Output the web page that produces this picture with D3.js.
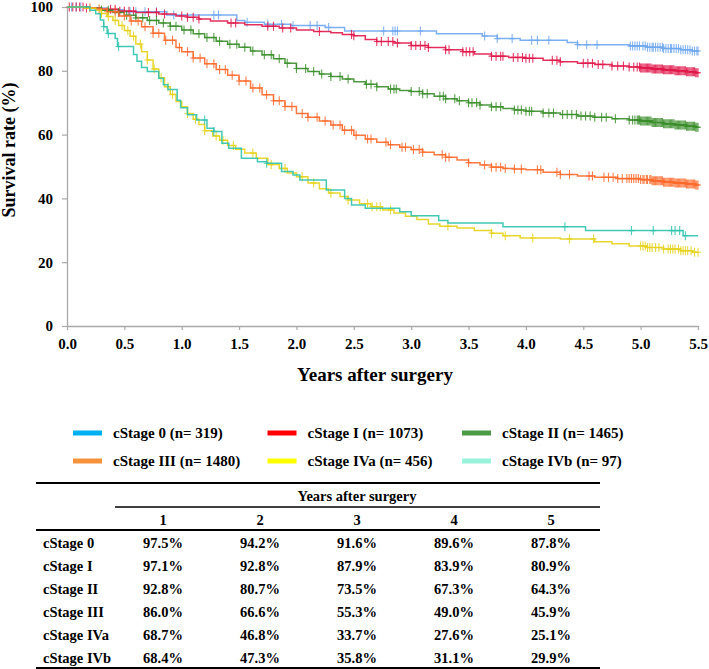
<!DOCTYPE html>
<html>
<head>
<meta charset="utf-8">
<script src="https://cdn.jsdelivr.net/npm/d3@7"></script>
<style>
  html, body { margin: 0; padding: 0; background: #fff; }
  svg { display: block; font-family: "Liberation Serif", "Times New Roman", serif; font-weight: bold; }
</style>
</head>
<body>
<svg id="chart" width="709" height="669"></svg>
<script>
// ---------------- DATA ----------------
const stages = ["cStage 0", "cStage I", "cStage II", "cStage III", "cStage IVa", "cStage IVb"];
const counts = [319, 1073, 1465, 1480, 456, 97];
const years = [1, 2, 3, 4, 5];
const xTicks = [0, 0.5, 1, 1.5, 2, 2.5, 3, 3.5, 4, 4.5, 5, 5.5];
const yTicks = [0, 20, 40, 60, 80, 100];

// survival step points [years, %]
const stage0Steps = [[0,100],[0.2,99.7],[0.35,99.1],[0.5,98.5],[0.87,97.5],[1.48,95.8],[1.55,95.2],[1.72,94.6],[1.95,94.2],[2.25,93.6],[2.42,92.5],[3.22,91.6],[3.62,90.9],[3.75,90.1],[3.95,89.6],[4.36,88.9],[4.45,88.2],[4.9,87.8],[5.05,87.4],[5.2,87.0],[5.35,86.6],[5.45,86.2],[5.5,86.2]];
const stage1Steps = [[0,100],[0.15,99.7],[0.3,99.3],[0.45,98.7],[0.6,98.3],[0.8,97.8],[0.95,97.2],[1.05,96.8],[1.15,96.2],[1.25,95.6],[1.4,95.0],[1.55,94.4],[1.7,94.0],[1.85,93.4],[2.0,92.8],[2.15,92.3],[2.3,91.9],[2.4,91.4],[2.5,91.0],[2.6,89.8],[2.7,89.2],[2.85,88.7],[3.0,87.9],[3.15,87.3],[3.3,86.6],[3.45,86.0],[3.55,85.3],[3.7,84.6],[3.85,84.2],[4.0,83.9],[4.15,83.3],[4.3,82.8],[4.45,82.4],[4.6,82.0],[4.75,81.5],[4.9,81.2],[5.0,80.9],[5.1,80.6],[5.2,80.3],[5.3,80.0],[5.4,79.7],[5.48,79.4],[5.5,79.4]];
const stage2Steps = [[0,100],[0.2,99.6],[0.3,99.0],[0.4,98.3],[0.5,97.4],[0.6,96.6],[0.7,95.8],[0.8,95.0],[0.9,94.0],[1.0,92.8],[1.1,91.6],[1.2,90.4],[1.3,89.3],[1.4,88.3],[1.5,87.4],[1.6,86.2],[1.7,85.0],[1.8,83.8],[1.9,82.4],[2.0,80.7],[2.1,79.8],[2.2,79.0],[2.3,78.2],[2.4,77.4],[2.5,76.6],[2.6,75.8],[2.7,75.0],[2.8,74.3],[2.9,73.8],[3.0,73.5],[3.1,72.8],[3.2,72.0],[3.3,71.2],[3.4,70.6],[3.5,70.0],[3.6,69.3],[3.7,68.7],[3.8,68.2],[3.9,67.7],[4.0,67.3],[4.15,66.8],[4.3,66.3],[4.45,65.8],[4.6,65.4],[4.75,65.0],[4.9,64.6],[5.0,64.3],[5.1,63.8],[5.2,63.4],[5.3,63.0],[5.4,62.6],[5.48,62.3],[5.5,62.3]];
const stage3Steps = [[0,100],[0.15,99.8],[0.25,99.4],[0.35,98.5],[0.45,97.2],[0.55,95.6],[0.65,93.8],[0.75,91.8],[0.85,89.6],[0.95,87.3],[1.0,86.0],[1.1,84.0],[1.2,82.2],[1.3,80.4],[1.4,78.6],[1.5,76.8],[1.6,74.6],[1.7,72.5],[1.8,70.6],[1.9,68.8],[2.0,66.6],[2.1,65.4],[2.2,64.3],[2.3,63.0],[2.4,61.4],[2.5,59.8],[2.6,58.6],[2.7,57.6],[2.8,56.8],[2.9,56.0],[3.0,55.3],[3.1,54.5],[3.2,53.7],[3.3,52.9],[3.4,52.0],[3.5,51.2],[3.6,50.5],[3.7,49.8],[3.8,49.4],[3.9,49.2],[4.0,49.0],[4.15,48.2],[4.3,47.5],[4.45,47.0],[4.6,46.6],[4.8,46.2],[5.0,45.9],[5.1,45.5],[5.2,45.1],[5.3,44.8],[5.4,44.5],[5.48,44.2],[5.5,44.2]];
const stage4aSteps = [[0,100],[0.15,99.6],[0.25,99.0],[0.3,98.0],[0.35,97.0],[0.4,95.8],[0.45,94.2],[0.5,92.6],[0.55,90.8],[0.6,88.4],[0.65,86.0],[0.7,83.4],[0.75,80.6],[0.8,77.8],[0.85,75.0],[0.9,72.6],[0.95,70.4],[1.0,68.7],[1.05,66.6],[1.1,64.8],[1.15,63.2],[1.2,61.2],[1.27,59.6],[1.33,58.2],[1.4,56.6],[1.47,55.4],[1.55,54.2],[1.65,52.6],[1.75,50.6],[1.85,49.4],[1.92,48.0],[2.0,46.8],[2.1,44.8],[2.2,43.0],[2.28,41.7],[2.38,40.6],[2.45,39.5],[2.55,38.3],[2.65,37.4],[2.75,36.4],[2.85,35.4],[2.95,34.4],[3.05,33.4],[3.15,32.0],[3.25,31.3],[3.4,30.7],[3.55,29.9],[3.7,29.1],[3.8,28.3],[3.95,27.6],[4.3,27.3],[4.6,26.4],[4.75,25.8],[4.9,25.1],[5.05,24.6],[5.2,24.1],[5.35,23.6],[5.45,23.1],[5.5,23.1]];
const stage4bSteps = [[0,100],[0.2,99.0],[0.25,97.9],[0.29,95.9],[0.32,93.8],[0.35,91.7],[0.42,90.1],[0.44,87.6],[0.58,85.1],[0.61,83.0],[0.65,81.0],[0.7,79.8],[0.8,77.7],[0.84,75.6],[0.88,74.1],[0.96,70.8],[0.99,68.4],[1.05,66.2],[1.13,64.6],[1.22,62.0],[1.28,61.0],[1.35,57.3],[1.41,55.7],[1.52,52.6],[1.66,51.5],[1.74,51.0],[1.87,48.4],[1.97,47.3],[2.03,45.8],[2.26,42.6],[2.42,40.0],[2.48,37.9],[2.6,36.9],[2.9,35.8],[3.0,34.6],[3.24,33.1],[3.32,32.3],[3.8,31.1],[4.52,29.9],[5.37,28.3],[5.5,28.3]];

// censoring times (years)
const stage0Censor = [0.04,0.08,0.12,0.55,0.6,0.68,0.78,0.93,1.28,1.32,1.57,1.75,1.87,1.97,2.12,2.18,2.28,2.76,2.84,2.86,2.88,3.08,3.64,3.75,3.88,4.05,4.1,4.2,4.45,4.53,4.62,4.91,4.93,4.95,4.97,4.99,5.02,5.04,5.06,5.08,5.1,5.11,5.13,5.15,5.17,5.19,5.2,5.22,5.24,5.26,5.27,5.29,5.31,5.33,5.35,5.37,5.39,5.41,5.43,5.45,5.47,5.49,5.5];
const stage1Censor = [0.02,0.05,0.08,0.11,0.14,0.17,0.38,0.42,0.46,0.5,0.54,0.58,0.71,0.78,0.85,1.0,1.05,1.1,1.15,1.43,1.47,1.75,1.8,1.88,1.95,2.2,2.48,2.5,2.7,2.74,2.8,2.84,2.88,3.0,3.04,3.08,3.12,3.15,3.3,3.33,3.45,3.48,3.51,3.54,3.7,3.74,3.78,3.8,3.89,3.93,3.97,4.0,4.03,4.06,4.23,4.27,4.3,4.5,4.54,4.58,4.63,4.67,4.75,4.8,4.85,4.9,4.94,4.97,4.99,5.0,5.01,5.02,5.03,5.04,5.05,5.06,5.07,5.08,5.09,5.1,5.11,5.12,5.13,5.14,5.15,5.16,5.17,5.18,5.19,5.2,5.21,5.22,5.23,5.24,5.25,5.26,5.27,5.28,5.29,5.3,5.31,5.32,5.33,5.34,5.35,5.36,5.37,5.38,5.39,5.4,5.41,5.42,5.43,5.44,5.45,5.46,5.47,5.48,5.49,5.5];
const stage2Censor = [0.3,0.36,0.45,0.52,0.6,0.66,0.72,0.78,0.84,0.9,0.95,1.02,1.08,1.15,1.22,1.28,1.33,1.42,1.48,1.55,1.62,1.72,1.78,1.85,1.92,2.0,2.08,2.15,2.22,2.3,2.38,2.45,2.61,2.65,2.7,2.82,2.85,2.87,3.0,3.07,3.1,3.14,3.25,3.28,3.3,3.38,3.42,3.5,3.53,3.57,3.6,3.7,3.74,3.78,3.9,3.93,3.96,4.0,4.03,4.05,4.15,4.2,4.24,4.32,4.36,4.4,4.44,4.48,4.52,4.56,4.6,4.66,4.7,4.78,4.9,4.93,4.95,4.97,4.98,4.99,5.0,5.01,5.02,5.03,5.04,5.05,5.06,5.07,5.08,5.09,5.1,5.11,5.12,5.13,5.14,5.15,5.16,5.17,5.18,5.19,5.2,5.21,5.22,5.23,5.24,5.25,5.26,5.27,5.28,5.29,5.3,5.31,5.32,5.33,5.34,5.35,5.36,5.37,5.38,5.39,5.4,5.41,5.42,5.43,5.44,5.45,5.46,5.47,5.48,5.49,5.5];
const stage3Censor = [0.2,0.28,0.35,0.42,0.5,0.56,0.62,0.68,0.75,0.8,0.86,0.92,0.98,1.05,1.1,1.16,1.22,1.28,1.33,1.38,1.44,1.5,1.56,1.62,1.68,1.74,1.8,1.85,1.9,1.96,2.05,2.1,2.18,2.25,2.32,2.38,2.42,2.48,2.52,2.62,2.65,2.78,2.82,2.92,2.95,3.02,3.07,3.1,3.27,3.3,3.33,3.5,3.64,3.7,3.74,3.78,3.82,3.9,3.96,4.1,4.13,4.27,4.3,4.38,4.55,4.58,4.68,4.72,4.76,4.8,4.84,4.88,4.9,4.92,4.94,4.96,4.98,5.0,5.02,5.03,5.05,5.06,5.08,5.09,5.1,5.11,5.12,5.13,5.14,5.15,5.16,5.17,5.18,5.19,5.2,5.21,5.22,5.23,5.24,5.25,5.26,5.27,5.28,5.29,5.3,5.31,5.32,5.33,5.34,5.35,5.36,5.37,5.38,5.39,5.4,5.41,5.42,5.43,5.44,5.45,5.46,5.47,5.48,5.49,5.5];
const stage4aCensor = [0.3,0.36,0.42,0.48,0.53,0.58,0.64,0.7,0.76,0.82,0.88,0.92,1.05,1.12,1.2,1.3,1.36,1.45,1.62,1.78,1.9,2.05,2.15,2.3,2.45,2.62,2.66,2.7,2.73,2.82,3.32,3.7,3.82,4.06,4.38,4.59,5.0,5.02,5.04,5.06,5.08,5.1,5.13,5.16,5.2,5.24,5.26,5.28,5.3,5.33,5.35,5.37,5.39,5.41,5.44,5.47,5.5];
const stage4bCensor = [0.32,0.36,0.45,1.2,1.28,1.74,4.34,4.92,5.11,5.27,5.3,5.34,5.39];

// ---------------- STYLES ----------------
const lineColors = ["#6fa7ee", "#e0184a", "#3b8e2c", "#ff6a2c", "#e6d21a", "#2fc3ae"];
const legendColors = ["#00b0f0", "#ff0000", "#4a9a46", "#f7923c", "#ffff00", "#99f3da"];

// table values (%)
const tableValues = [
  [97.5, 94.2, 91.6, 89.6, 87.8],
  [97.1, 92.8, 87.9, 83.9, 80.9],
  [92.8, 80.7, 73.5, 67.3, 64.3],
  [86.0, 66.6, 55.3, 49.0, 45.9],
  [68.7, 46.8, 33.7, 27.6, 25.1],
  [68.4, 47.3, 35.8, 31.1, 29.9]
];

const stepsAll = [stage0Steps, stage1Steps, stage2Steps, stage3Steps, stage4aSteps, stage4bSteps];
const censorAll = [stage0Censor, stage1Censor, stage2Censor, stage3Censor, stage4aCensor, stage4bCensor];

// ---------------- CHART ----------------
const svg = d3.select("#chart");
const x = d3.scaleLinear().domain([0, 5.5]).range([67, 698]);
const y = d3.scaleLinear().domain([0, 100]).range([326, 7]);
const axisColor = "#a9a9a9";

const gx = svg.append("g").attr("transform", `translate(0,${y(0)})`)
  .call(d3.axisBottom(x).tickValues(xTicks).tickFormat(d3.format(".1f")).tickSize(4).tickSizeOuter(0).tickPadding(8));
const gy = svg.append("g").attr("transform", `translate(${x(0)},0)`)
  .call(d3.axisLeft(y).tickValues(yTicks).tickSize(5).tickSizeOuter(0).tickPadding(9));
[gx, gy].forEach(g => {
  g.select(".domain").attr("stroke", axisColor).attr("stroke-width", 1.3);
  g.selectAll(".tick line").attr("stroke", axisColor).attr("stroke-width", 1.2);
  g.selectAll(".tick text").attr("fill", "#000").style("font-size", "15px")
    .style("font-family", '"Liberation Serif", serif').style("font-weight", "bold");
});

svg.append("text").attr("transform", "translate(15,150) rotate(-90)")
  .attr("text-anchor", "middle").style("font-size", "18px").text("Survival rate (%)");
svg.append("text").attr("x", 375).attr("y", 381)
  .attr("text-anchor", "middle").style("font-size", "19px").text("Years after surgery");

const line = d3.line().x(d => x(d[0])).y(d => y(d[1])).curve(d3.curveStepAfter);
const bis = d3.bisector(d => d[0]).right;

stepsAll.forEach((steps, i) => {
  const g = svg.append("g");
  g.append("path").attr("d", line(steps)).attr("fill", "none")
    .attr("stroke", lineColors[i]).attr("stroke-width", 1.5).attr("stroke-opacity", 0.9);
  const marks = censorAll[i].map(t => {
    const idx = Math.max(0, bis(steps, t) - 1);
    return [t, steps[idx][1]];
  });
  g.selectAll("path.c").data(marks).join("path").attr("class", "c")
    .attr("d", d => `M${x(d[0])},${y(d[1]) - 4.5}V${y(d[1]) + 4.5}M${x(d[0]) - 3},${y(d[1])}H${x(d[0]) + 3}`)
    .attr("stroke", lineColors[i]).attr("stroke-width", 1.1).attr("stroke-opacity", 0.85).attr("fill", "none");
});

// ---------------- LEGEND ----------------
const legCol = d3.scalePoint().domain([0, 1, 2]).range([73, 462]);
const legRow = d3.scalePoint().domain([0, 1]).range([433, 461]);
const leg = svg.append("g").selectAll("g").data(stages).join("g")
  .attr("transform", (d, i) => `translate(${legCol(i % 3)},${legRow(Math.floor(i / 3))})`);
leg.append("line").attr("x1", 0).attr("x2", 29).attr("y1", 0).attr("y2", 0)
  .attr("stroke", (d, i) => legendColors[i]).attr("stroke-width", 5);
leg.append("text").attr("x", 40).attr("y", 5).style("font-size", "15px")
  .text((d, i) => `${d} (n= ${counts[i]})`);

// ---------------- TABLE ----------------
const tLeft = 36, tRight = 600;
const colX = d3.scalePoint().domain(years).range([163, 551]);
const rowY = d3.scalePoint().domain(stages).range([543, 658]);
const tbl = svg.append("g").style("font-size", "14.5px");
tbl.append("line").attr("x1", tLeft).attr("x2", tRight).attr("y1", 483).attr("y2", 483).attr("stroke", "#000").attr("stroke-width", 2);
tbl.append("line").attr("x1", 115).attr("x2", tRight).attr("y1", 507).attr("y2", 507).attr("stroke", "#000").attr("stroke-width", 1.3);
tbl.append("line").attr("x1", tLeft).attr("x2", tRight).attr("y1", 530).attr("y2", 530).attr("stroke", "#000").attr("stroke-width", 2);
tbl.append("line").attr("x1", tLeft).attr("x2", tRight).attr("y1", 668).attr("y2", 668).attr("stroke", "#000").attr("stroke-width", 2);
tbl.append("text").attr("x", 357).attr("y", 501).attr("text-anchor", "middle").text("Years after surgery");
tbl.selectAll("text.yr").data(years).join("text").attr("class", "yr")
  .attr("x", d => colX(d)).attr("y", 525).attr("text-anchor", "middle").text(d => d);
tbl.selectAll("text.rl").data(stages).join("text").attr("class", "rl")
  .attr("x", 43).attr("y", d => rowY(d) + 5).text(d => d);
stages.forEach((s, i) => {
  tbl.selectAll(null).data(tableValues[i]).join("text")
    .attr("x", (d, j) => colX(years[j])).attr("y", rowY(s) + 5).attr("text-anchor", "middle")
    .text(d => d.toFixed(1) + "%");
});
</script>
</body>
</html>
